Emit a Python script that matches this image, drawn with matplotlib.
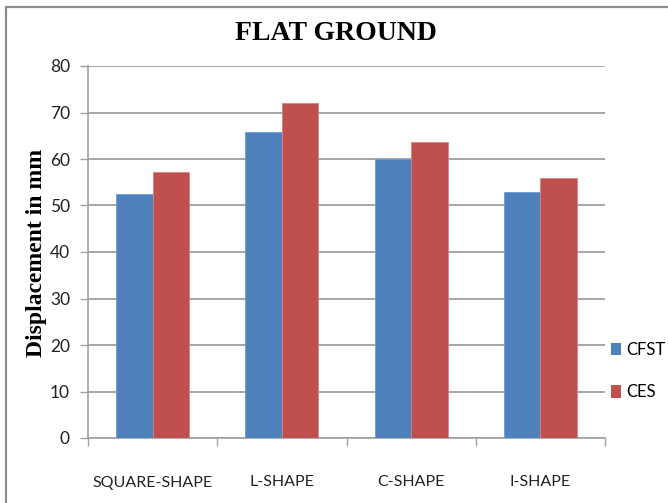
import matplotlib
matplotlib.use("Agg")
import matplotlib.pyplot as plt
import numpy as np
from matplotlib.patches import Rectangle, Patch

categories = ["SQUARE-SHAPE", "L-SHAPE", "C-SHAPE", "I-SHAPE"]
cfst = [52.4, 65.9, 60.1, 52.9]
ces = [57.3, 72.0, 63.6, 56.0]
series_names = ["CFST", "CES"]
y_ticks = [0, 10, 20, 30, 40, 50, 60, 70, 80]

BLUE = "#4F81BD"
RED = "#C0504D"
GRID = "#A6A6A6"

sans = ["Lato", "DejaVu Sans"]
serif = ["Liberation Serif", "DejaVu Serif"]

fig = plt.figure(figsize=(6.68, 5.03), dpi=100)
W, H = 668, 503

# outer chart frame
fig.patches.append(Rectangle((5.5 / W, -0.1), 1.2, (1 - 7 / H) + 0.1,
                             transform=fig.transFigure, fill=False,
                             edgecolor="#8C8C8C", linewidth=1.6, zorder=0))

ax = fig.add_axes([88 / W, 1 - 438 / H, (605 - 88) / W, (438 - 66) / H])

x = np.arange(len(categories))
bw = 0.283
ax.bar(x - bw / 2, cfst, bw, color=BLUE, edgecolor="#6F9AD0", linewidth=0.6,
       zorder=3, label=series_names[0])
ax.bar(x + bw / 2, ces, bw, color=RED, edgecolor="#D88482", linewidth=0.6,
       zorder=3, label=series_names[1])

ax.set_xlim(-0.5, len(categories) - 0.5)
ax.set_ylim(0, 80)
ax.set_yticks(y_ticks)
ax.set_yticklabels([str(v) for v in y_ticks], fontsize=12.5, family=sans,
                   color="#222222")
ax.yaxis.grid(True, color=GRID, linewidth=1.4, zorder=0)
ax.set_axisbelow(True)

ax.set_xticks(x)
ax.set_xticklabels(categories, fontsize=11.5, family=sans, color="#222222")
ax.tick_params(axis="x", length=0, pad=27)
ax.set_xticks(np.arange(-0.5, len(categories)), minor=True)
ax.tick_params(axis="x", which="minor", length=6, color="#A0A0A0", width=1)
ax.tick_params(axis="y", length=6, color="#A0A0A0", width=1, pad=7)

for s in ["top", "right"]:
    ax.spines[s].set_visible(False)
for s in ["left", "bottom"]:
    ax.spines[s].set_color("#A0A0A0")
    ax.spines[s].set_linewidth(1.2)

fig.text(37 / W, 1 - 253 / H, "Displacement in mm", rotation=90,
         ha="center", va="center", fontsize=17, family=serif,
         fontweight="bold")

fig.text(336 / W, 1 - 34 / H, "FLAT GROUND", ha="center", va="center",
         fontsize=20, family=serif, fontweight="bold")

handles = [Patch(facecolor=BLUE), Patch(facecolor=RED)]
fig.legend(handles, series_names, loc="center left",
           bbox_to_anchor=(611 / W, 1 - 371 / H), frameon=False,
           borderpad=0, borderaxespad=0,
           prop={"family": sans, "size": 12}, handlelength=0.6,
           handleheight=0.8, handletextpad=0.3, labelspacing=1.6)

fig.savefig("out.png", dpi=100)
